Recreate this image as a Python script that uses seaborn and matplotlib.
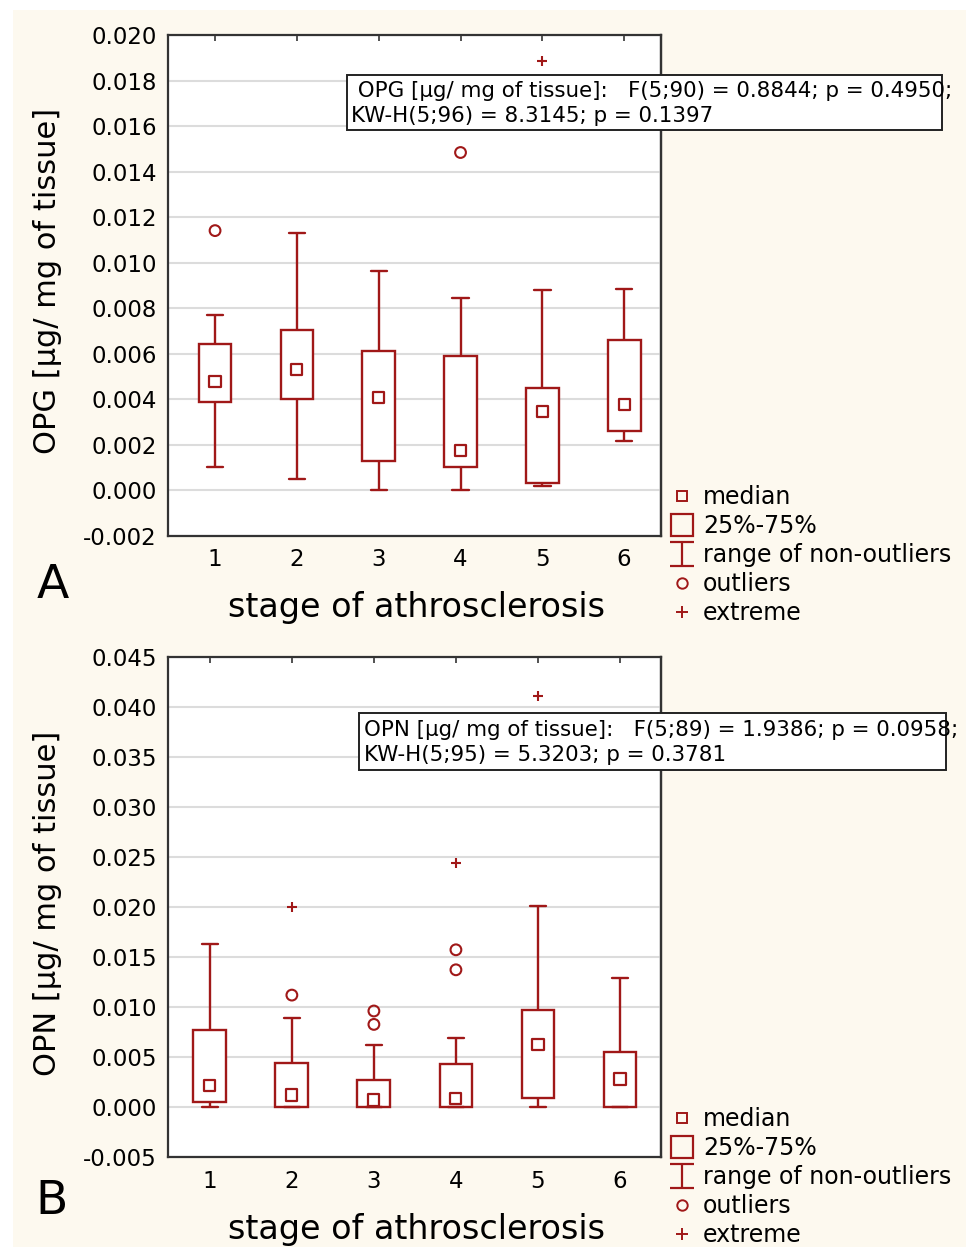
import matplotlib
matplotlib.use('Agg')
import matplotlib.pyplot as plt
from matplotlib.lines import Line2D
from matplotlib.patches import Rectangle
from matplotlib.path import Path
from matplotlib.ticker import FormatStrFormatter, MultipleLocator
import seaborn as sns
import pandas as pd

# stages on the x axis
stages = [1, 2, 3, 4, 5, 6]

# Panel A - OPG [µg/ mg of tissue]
opg_low = [0.00104, 0.00052, 0.0000, 0.0000, 0.00019, 0.00216]
opg_q1 = [0.00390, 0.00400, 0.00128, 0.00103, 0.00034, 0.00260]
opg_median = [0.00479, 0.00531, 0.00407, 0.00175, 0.00345, 0.00379]
opg_q3 = [0.00642, 0.00705, 0.00614, 0.00590, 0.00449, 0.00662]
opg_high = [0.00769, 0.01130, 0.00965, 0.00843, 0.00880, 0.00885]
opg_outlier_stage = [1, 4]
opg_outlier_value = [0.01141, 0.01484]
opg_extreme_stage = [5]
opg_extreme_value = [0.01888]

# Panel B - OPN [µg/ mg of tissue]
opn_low = [0.0, 0.0, 0.0, 0.0, 0.0, 0.0]
opn_q1 = [0.00053, 0.0, 0.0, 0.0, 0.00093, 0.0]
opn_median = [0.00213, 0.00120, 0.00070, 0.00083, 0.00626, 0.00280]
opn_q3 = [0.00766, 0.00436, 0.00273, 0.00430, 0.00973, 0.00546]
opn_high = [0.01626, 0.00889, 0.00620, 0.00693, 0.02012, 0.01292]
opn_outlier_stage = [2, 3, 3, 4, 4]
opn_outlier_value = [0.01119, 0.00960, 0.00826, 0.01572, 0.01372]
opn_extreme_stage = [2, 4, 5]
opn_extreme_value = [0.01999, 0.02438, 0.04110]

opg_stats = "OPG [µg/ mg of tissue]:   F(5;90) = 0.8844; p = 0.4950;\nKW-H(5;96) = 8.3145; p = 0.1397"
opn_stats = "OPN [µg/ mg of tissue]:   F(5;89) = 1.9386; p = 0.0958;\nKW-H(5;95) = 5.3203; p = 0.3781"
legend_labels = ['median', '25%-75%', 'range of non-outliers', 'outliers', 'extreme']

RED = '#A01818'
CREAM = '#FDF9EF'
W, H = 966, 1247

sns.set_style('white')
plt.rcParams['font.family'] = ['DejaVu Sans']
plt.rcParams['axes.unicode_minus'] = False
plt.rcParams['text.color'] = 'black'
plt.rcParams['xtick.labelcolor'] = 'black'
plt.rcParams['ytick.labelcolor'] = 'black'


def fx(px):
    return px / W


def fy(py):
    return 1 - py / H


def summary_table(low, q1, med, q3, high):
    # five summary values per stage -> quartiles come out exactly, whis=(0,100) gives the range
    rows = []
    for s, vals in zip(stages, zip(low, q1, med, q3, high)):
        for v in vals:
            rows.append({'stage': s, 'value': v})
    return pd.DataFrame(rows)


whisker_path = Path([(-0.5, 0.5), (0.5, 0.5), (0, 0.5), (0, -0.5), (-0.5, -0.5), (0.5, -0.5)],
                    [Path.MOVETO, Path.LINETO, Path.MOVETO, Path.LINETO, Path.MOVETO, Path.LINETO])


def draw_panel(ax, table, med, out_s, out_v, ext_s, ext_v, ylim, step, xlim, xpad):
    ax.set_facecolor('white')
    sns.boxplot(data=table, x='stage', y='value', native_scale=True, whis=(0, 100),
                width=0.4, color='white', linecolor=RED, linewidth=1.7, saturation=1,
                showfliers=False, medianprops={'visible': False}, ax=ax)
    sns.scatterplot(x=stages, y=med, marker='s', s=64, color=RED, facecolor='none',
                    edgecolor=RED, linewidth=1.6, zorder=4, ax=ax)
    sns.scatterplot(x=out_s, y=out_v, marker='o', s=60, color=RED, facecolor='none',
                    edgecolor=RED, linewidth=1.5, zorder=4, ax=ax)
    sns.scatterplot(x=ext_s, y=ext_v, marker='+', s=60, color=RED, linewidth=1.5,
                    zorder=4, ax=ax)
    ax.set_xlim(*xlim)
    ax.set_ylim(*ylim)
    ax.set_xticks(stages)
    ax.set_xticklabels([str(s) for s in stages])
    ax.yaxis.set_major_locator(MultipleLocator(step))
    ax.yaxis.set_major_formatter(FormatStrFormatter('%.3f'))
    ax.set_xlabel('')
    ax.set_ylabel('')
    ax.grid(axis='y', color='#DCDCDC', linewidth=1.5)
    ax.set_axisbelow(True)
    for sp in ax.spines.values():
        sp.set_color('#333333')
        sp.set_linewidth(1.6)
    ax.tick_params(axis='x', direction='in', top=True, length=4, width=1.2,
                   color='#333333', labelsize=16.5, pad=xpad)
    ax.tick_params(axis='y', direction='out', length=4, width=1.2,
                   color='#333333', labelsize=16.5, pad=4)
    right = ax.secondary_yaxis('right')
    right.yaxis.set_major_locator(MultipleLocator(step))
    right.tick_params(direction='in', length=4, width=1.2, color='#333333', labelright=False)
    right.spines['right'].set_color('#333333')
    right.spines['right'].set_linewidth(1.6)


def add_legend(ax, top_px):
    handles = [
        Line2D([], [], ls='none', marker='s', ms=7, mfc='none', mec=RED, mew=1.4),
        Line2D([], [], ls='none', marker='s', ms=16, mfc='none', mec=RED, mew=1.6),
        Line2D([], [], ls='none', marker=whisker_path, ms=17, mfc='none', mec=RED, mew=1.6),
        Line2D([], [], ls='none', marker='o', ms=7.5, mfc='none', mec=RED, mew=1.4),
        Line2D([], [], ls='none', marker='+', ms=8.5, mfc='none', mec=RED, mew=1.4),
    ]
    ax.legend(handles, legend_labels, loc='upper left', bbox_to_anchor=(fx(670), fy(top_px)),
              bbox_transform=ax.figure.transFigure, frameon=False, fontsize=17,
              handlelength=1.0, handletextpad=0.4, labelspacing=0.21, borderpad=0,
              borderaxespad=0)


def add_stats(fig, text, x0, y0, x1, y1, tx, ty):
    fig.add_artist(Rectangle((fx(x0), fy(y1)), fx(x1) - fx(x0), fy(y0) - fy(y1),
                             transform=fig.transFigure, facecolor='white',
                             edgecolor='#222222', linewidth=1.4, zorder=5))
    fig.text(fx(tx), fy(ty), text, ha='left', va='top', fontsize=15.4,
             linespacing=1.32, zorder=6)


fig = plt.figure(figsize=(W / 100, H / 100), dpi=100, facecolor='white')
fig.add_artist(Rectangle((fx(13), 0), 1 - fx(13), fy(10), transform=fig.transFigure,
                         facecolor=CREAM, edgecolor='none', zorder=-5))

ax_a = fig.add_axes([fx(168), fy(536), fx(661) - fx(168), fy(35) - fy(536)])
ax_b = fig.add_axes([fx(168), fy(1157), fx(661) - fx(168), fy(657) - fy(1157)])

draw_panel(ax_a, summary_table(opg_low, opg_q1, opg_median, opg_q3, opg_high), opg_median,
           opg_outlier_stage, opg_outlier_value, opg_extreme_stage, opg_extreme_value,
           (-0.002, 0.020), 0.002, (0.425, 6.45), 8.5)
draw_panel(ax_b, summary_table(opn_low, opn_q1, opn_median, opn_q3, opn_high), opn_median,
           opn_outlier_stage, opn_outlier_value, opn_extreme_stage, opn_extreme_value,
           (-0.005, 0.045), 0.005, (0.49, 6.5), 9)

add_legend(ax_a, 485)
add_legend(ax_b, 1107)

add_stats(fig, ' ' + opg_stats, 347, 75, 942, 130, 351, 81)
add_stats(fig, opn_stats, 359, 713, 946, 770, 364, 720)

# axis titles and panel letters
fig.text(fx(48), fy(281), 'OPG [µg/ mg of tissue]', rotation=90, ha='center', va='center', fontsize=22)
fig.text(fx(48), fy(903), 'OPN [µg/ mg of tissue]', rotation=90, ha='center', va='center', fontsize=22)
fig.text(fx(417), fy(607), 'stage of athrosclerosis', ha='center', va='center', fontsize=24)
fig.text(fx(417), fy(1229), 'stage of athrosclerosis', ha='center', va='center', fontsize=24)
fig.text(fx(53), fy(585), 'A', ha='center', va='center', fontsize=34)
fig.text(fx(52), fy(1201), 'B', ha='center', va='center', fontsize=34)

fig.savefig('out.png', dpi=100, facecolor=fig.get_facecolor())
